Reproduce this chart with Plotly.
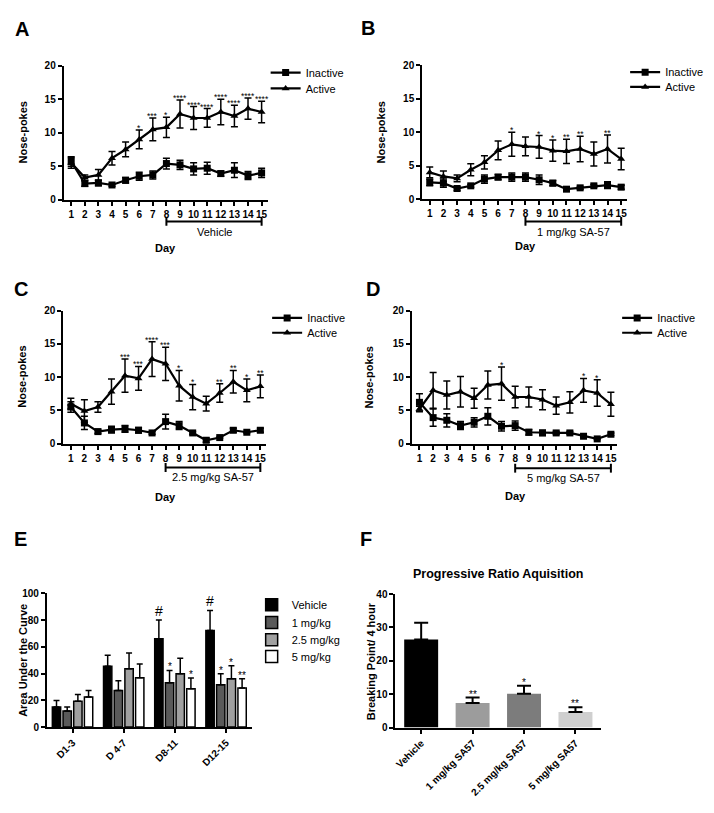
import plotly.graph_objects as go

W, H = 714, 813
PAGE_OFFSET = 8  # default body margin of the html page
FONT = "Liberation Sans, Arial, sans-serif"

# ---------------- data ----------------
days = list(range(1, 16))

A_inactive = [5.7, 2.4, 2.5, 2.2, 2.9, 3.5, 3.7, 5.4, 5.2, 4.6, 4.7, 3.9, 4.4, 3.6, 4.0]
A_inactive_err = [0.7, 0.4, 0.4, 0.2, 0.4, 0.6, 0.6, 0.8, 0.7, 0.9, 0.9, 0.4, 1.1, 0.6, 0.7]
A_active = [5.5, 3.3, 3.7, 6.2, 7.5, 9.0, 10.5, 10.8, 12.8, 12.2, 12.2, 13.1, 12.5, 13.6, 13.1]
A_active_err = [0.8, 0.4, 0.8, 1.0, 1.1, 1.4, 1.7, 1.5, 2.1, 1.7, 1.4, 1.9, 1.6, 1.6, 1.6]
A_sig = ["", "", "", "", "", "*", "***", "*", "****", "****", "****", "****", "****", "****", "****"]

B_inactive = [2.5, 2.4, 1.6, 2.0, 3.0, 3.3, 3.3, 3.3, 2.9, 2.4, 1.5, 1.7, 2.0, 2.1, 1.8]
B_inactive_err = [0.5, 0.6, 0.3, 0.2, 0.6, 0.4, 0.6, 0.6, 0.7, 0.4, 0.2, 0.2, 0.2, 0.5, 0.3]
B_active = [4.0, 3.4, 3.1, 4.4, 5.5, 7.3, 8.2, 7.9, 7.8, 7.25, 7.15, 7.5, 6.75, 7.5, 6.0]
B_active_err = [0.8, 0.8, 0.5, 0.9, 1.0, 1.4, 1.8, 1.4, 1.7, 1.6, 1.8, 1.9, 1.8, 2.1, 1.6]
B_sig = ["", "", "", "", "", "", "*", "", "*", "*", "**", "**", "", "**", ""]

C_inactive = [5.5, 3.1, 1.8, 2.1, 2.2, 2.0, 1.6, 3.3, 2.7, 1.6, 0.5, 0.9, 2.0, 1.7, 2.0]
C_inactive_err = [0.8, 1.0, 0.3, 0.5, 0.5, 0.4, 0.2, 1.1, 0.6, 0.2, 0.3, 0.1, 0.3, 0.1, 0.3]
C_active = [6.0, 4.9, 5.5, 7.8, 10.2, 9.8, 12.7, 12.0, 8.7, 7.0, 6.0, 7.6, 9.3, 8.0, 8.6]
C_active_err = [0.8, 1.7, 0.8, 1.9, 2.5, 1.8, 2.6, 2.5, 2.3, 1.9, 1.1, 1.4, 1.7, 1.7, 1.7]
C_sig = ["", "", "", "", "***", "***", "****", "***", "*", "*", "", "**", "**", "*", "**"]

D_inactive = [6.2, 3.9, 3.5, 2.7, 3.2, 4.1, 2.6, 2.7, 1.7, 1.6, 1.6, 1.6, 1.1, 0.7, 1.4]
D_inactive_err = [1.3, 1.3, 1.0, 0.6, 0.7, 1.3, 0.7, 0.7, 0.4, 0.4, 0.2, 0.2, 0.1, 0.1, 0.2]
D_active = [5.2, 8.0, 7.3, 7.8, 6.8, 8.8, 9.0, 7.0, 7.0, 6.6, 5.7, 6.2, 8.0, 7.6, 5.9]
D_active_err = [0.4, 2.7, 2.1, 2.3, 1.5, 2.1, 2.5, 1.6, 1.5, 1.5, 1.3, 1.6, 1.8, 2.0, 1.8]
D_sig = ["", "", "", "", "", "", "*", "", "", "", "", "", "*", "*", ""]

treatment_start, treatment_end = 8, 15
treatment_labels = ["Vehicle", "1 mg/kg SA-57", "2.5 mg/kg SA-57", "5 mg/kg SA-57"]

E_periods = ["D1-3", "D 4-7", "D8-11", "D12-15"]
E_groups = ["Vehicle", "1 mg/kg", "2.5 mg/kg", "5 mg/kg"]
E_vehicle = [15.0, 45.5, 66.0, 72.2]
E_vehicle_err = [4.9, 8.1, 14.0, 15.0]
E_1mg = [12.0, 27.3, 33.2, 31.7]
E_1mg_err = [3.0, 7.3, 9.1, 8.1]
E_2_5mg = [19.2, 43.5, 39.8, 36.1]
E_2_5mg_err = [5.1, 11.8, 11.6, 9.8]
E_5mg = [22.4, 36.9, 28.7, 29.2]
E_5mg_err = [4.9, 10.3, 7.9, 6.9]
E_vehicle_sig = ["", "", "#", "#"]
E_1mg_sig = ["", "", "*", "*"]
E_2_5mg_sig = ["", "", "", "*"]
E_5mg_sig = ["", "", "*", "**"]

F_groups = ["Vehicle", "1 mg/kg SA57", "2.5 mg/kg SA57", "5 mg/kg SA57"]
F_values = [26.4, 7.4, 10.1, 4.7]
F_err = [5.0, 1.6, 2.4, 1.4]
F_sig = ["", "**", "*", "**"]


# ---------------- helpers (page pixels -> paper fractions) ----------------
def fx(px):
    return (px - PAGE_OFFSET) / W


def fy(py):
    return 1 - (py - PAGE_OFFSET) / H


fig = go.Figure()

axis_base = dict(
    showline=True, linecolor="black", linewidth=2, mirror=False,
    ticks="outside", tickcolor="black", tickwidth=1.5, ticklen=4,
    showgrid=False, zeroline=False,
    tickfont=dict(family=FONT, size=10, color="black", weight="bold"),
)

annotations = []
shapes = []
legend_count = [0]


def new_legend(xpx, ypx, size=11):
    legend_count[0] += 1
    n = legend_count[0]
    name = "legend" if n == 1 else f"legend{n}"
    fig.layout[name] = dict(
        x=fx(xpx), y=fy(ypx), xanchor="left", yanchor="middle",
        font=dict(family=FONT, size=size, color="black"),
        bgcolor="rgba(0,0,0,0)", borderwidth=0, itemclick=False,
    )
    return name


# line panels geometry (page pixels)
line_panels = [
    dict(letter="A", inact=A_inactive, inact_err=A_inactive_err, act=A_active, act_err=A_active_err,
         sig=A_sig, label=treatment_labels[0],
         x0=62.8, x1=267.1, ytop=60.5, ybot=196.5, let=(21, 23), leg=(265, 67.5, 83.5),
         br=218.5, brl=229, day=(165, 246), yt=21.7),
    dict(letter="B", inact=B_inactive, inact_err=B_inactive_err, act=B_active, act_err=B_active_err,
         sig=B_sig, label=treatment_labels[1],
         x0=421.8, x1=627.2, ytop=60.0, ybot=196.0, let=(368, 22), leg=(625, 67, 82),
         br=218.5, brl=229, day=(525, 243), yt=380.7),
    dict(letter="C", inact=C_inactive, inact_err=C_inactive_err, act=C_active, act_err=C_active_err,
         sig=C_sig, label=treatment_labels[2],
         x0=62.5, x1=265.8, ytop=309.0, ybot=444.0, let=(20, 287), leg=(266.5, 316.5, 331.5),
         br=468.3, brl=477.5, day=(165, 498), yt=20.7),
    dict(letter="D", inact=D_inactive, inact_err=D_inactive_err, act=D_active, act_err=D_active_err,
         sig=D_sig, label=treatment_labels[3],
         x0=411.5, x1=616.9, ytop=309.0, ybot=444.0, let=(373, 287), leg=(617, 316.5, 331.5),
         br=469, brl=479, day=(515, 497), yt=369),
]

for i, p in enumerate(line_panels):
    n = i + 1
    xa = "x" if n == 1 else f"x{n}"
    ya = "y" if n == 1 else f"y{n}"
    xl = "xaxis" if n == 1 else f"xaxis{n}"
    yl = "yaxis" if n == 1 else f"yaxis{n}"
    fig.layout[xl] = dict(axis_base, domain=[fx(p["x0"]), fx(p["x1"])], range=[0.45, 15.45],
                          tickvals=days, tickangle=0, anchor=ya)
    fig.layout[yl] = dict(axis_base, domain=[fy(p["ybot"]), fy(p["ytop"])], range=[0, 20],
                          tickvals=[0, 5, 10, 15, 20], anchor=xa)

    leg1 = new_legend(p["leg"][0], p["leg"][1])
    fig.add_trace(go.Scatter(
        x=days, y=p["inact"], name="Inactive", mode="lines+markers",
        xaxis=xa, yaxis=ya, legend=leg1, cliponaxis=False,
        line=dict(color="black", width=2.2),
        marker=dict(symbol="square", size=7, color="black"),
        error_y=dict(type="data", array=p["inact_err"], color="black", thickness=1.5, width=3.5),
    ))
    leg2 = new_legend(p["leg"][0], p["leg"][2])
    fig.add_trace(go.Scatter(
        x=days, y=p["act"], name="Active", mode="lines+markers",
        xaxis=xa, yaxis=ya, legend=leg2, cliponaxis=False,
        line=dict(color="black", width=2.2),
        marker=dict(symbol="triangle-up", size=7, color="black"),
        error_y=dict(type="data", array=p["act_err"], color="black", thickness=1.5, width=3.5),
    ))

    for d, m, e, s in zip(days, p["act"], p["act_err"], p["sig"]):
        if s:
            annotations.append(dict(x=d, y=m + e, xref=xa, yref=ya, text=s, showarrow=False,
                                    xanchor="center", yanchor="bottom", yshift=-4, borderpad=0,
                                    font=dict(family=FONT, size=8.5, color="black")))

    # treatment bracket
    shapes.append(dict(type="line", xref=xa, yref="paper", x0=treatment_start, x1=treatment_end,
                       y0=fy(p["br"]), y1=fy(p["br"]), line=dict(color="black", width=2)))
    for xd in (treatment_start, treatment_end):
        shapes.append(dict(type="line", xref=xa, yref="paper", x0=xd, x1=xd,
                           y0=fy(p["br"] - 4.5), y1=fy(p["br"] + 4.5), line=dict(color="black", width=2)))
    annotations.append(dict(x=(treatment_start + treatment_end) / 2, y=fy(p["brl"]), xref=xa, yref="paper",
                            text=p["label"], showarrow=False, xanchor="center", yanchor="middle",
                            font=dict(family=FONT, size=11, color="black")))
    annotations.append(dict(x=fx(p["day"][0]), y=fy(p["day"][1]), xref="paper", yref="paper",
                            text="<b>Day</b>", showarrow=False, xanchor="center", yanchor="middle",
                            font=dict(family=FONT, size=11, color="black")))
    annotations.append(dict(x=fx(p["yt"]), y=0.5, xref="paper", yref=f"{ya} domain",
                            text="<b>Nose-pokes</b>", showarrow=False, textangle=-90,
                            xanchor="center", yanchor="middle",
                            font=dict(family=FONT, size=11, color="black")))
    annotations.append(dict(x=fx(p["let"][0]), y=fy(p["let"][1]), xref="paper", yref="paper",
                            text=f"<b>{p['letter']}</b>", showarrow=False, xanchor="center", yanchor="middle",
                            font=dict(family=FONT, size=20, color="black")))

# ---------------- panel E ----------------
BARGAP, BARGROUPGAP = 0.165, 0.22
fig.layout["xaxis5"] = dict(axis_base, domain=[fx(46), fx(251)], type="category", anchor="y5",
                            tickangle=-45, range=[-0.5, 3.5])
fig.layout["yaxis5"] = dict(axis_base, domain=[fy(731.7), fy(596)], range=[0, 100],
                            tickvals=[0, 20, 40, 60, 80, 100], anchor="x5")
E_series = [
    (E_groups[0], E_vehicle, E_vehicle_err, E_vehicle_sig, "#000000", 607.5),
    (E_groups[1], E_1mg, E_1mg_err, E_1mg_sig, "#5a5a5a", 625.5),
    (E_groups[2], E_2_5mg, E_2_5mg_err, E_2_5mg_sig, "#a0a0a0", 643),
    (E_groups[3], E_5mg, E_5mg_err, E_5mg_sig, "#ffffff", 660),
]
slot = (1 - BARGAP) / len(E_series)
for j, (name, vals, errs, sigs, col, ly) in enumerate(E_series):
    leg = new_legend(251, ly)
    fig.add_trace(go.Bar(
        x=E_periods, y=vals, name=name, xaxis="x5", yaxis="y5", legend=leg,
        marker=dict(color=col, line=dict(color="black", width=1.5)),
        error_y=dict(type="data", symmetric=False, array=errs, arrayminus=[0] * len(errs),
                     color="black", thickness=1.5, width=3),
    ))
    for k, (v, e, s) in enumerate(zip(vals, errs, sigs)):
        if s:
            annotations.append(dict(x=k + (j - (len(E_series) - 1) / 2) * slot, y=v + e, xref="x5", yref="y5",
                                    text=s, showarrow=False, xanchor="center", yanchor="bottom",
                                    yshift=(-1 if s == "#" else -4),
                                    font=dict(family=FONT, size=(14 if s == "#" else 10), color="black")))

annotations.append(dict(x=fx(21.7), y=0.5, xref="paper", yref="y5 domain", text="<b>Area Under the Curve</b>",
                        showarrow=False, textangle=-90, xanchor="center", yanchor="middle",
                        font=dict(family=FONT, size=11, color="black")))
annotations.append(dict(x=fx(20), y=fy(541), xref="paper", yref="paper", text="<b>E</b>", showarrow=False,
                        xanchor="center", yanchor="middle", font=dict(family=FONT, size=20, color="black")))

# ---------------- panel F ----------------
fig.layout["xaxis6"] = dict(axis_base, domain=[fx(395), fx(601)], type="category", anchor="y6",
                            tickangle=-45, range=[-0.5, 3.5])
fig.layout["yaxis6"] = dict(axis_base, domain=[fy(732.3), fy(596.7)], range=[0, 40],
                            tickvals=[0, 10, 20, 30, 40], anchor="x6")
fig.add_trace(go.Bar(
    x=F_groups, y=F_values, xaxis="x6", yaxis="y6", showlegend=False, width=0.66,
    marker=dict(color=["#000000", "#9c9c9c", "#7c7c7c", "#cfcfcf"], line=dict(width=0)),
    error_y=dict(type="data", symmetric=False, array=F_err, arrayminus=[0] * len(F_err),
                 color="black", thickness=2, width=7),
))
for k, (v, e, s) in enumerate(zip(F_values, F_err, F_sig)):
    if s:
        annotations.append(dict(x=k, y=v + e, xref="x6", yref="y6", text=s, showarrow=False,
                                xanchor="center", yanchor="bottom", yshift=-4,
                                font=dict(family=FONT, size=10, color="black")))
annotations.append(dict(x=0.5, y=fy(576), xref="x6 domain", yref="paper",
                        text="<b>Progressive Ratio Aquisition</b>", showarrow=False,
                        xanchor="center", yanchor="middle",
                        font=dict(family=FONT, size=12.5, color="black")))
annotations.append(dict(x=fx(370), y=0.5, xref="paper", yref="y6 domain", text="<b>Breaking Point/ 4 hour</b>",
                        showarrow=False, textangle=-90, xanchor="center", yanchor="middle",
                        font=dict(family=FONT, size=11, color="black")))
annotations.append(dict(x=fx(366), y=fy(541), xref="paper", yref="paper", text="<b>F</b>", showarrow=False,
                        xanchor="center", yanchor="middle", font=dict(family=FONT, size=20, color="black")))

fig.update_layout(
    width=W, height=H, margin=dict(l=0, r=0, t=0, b=0),
    paper_bgcolor="white", plot_bgcolor="white",
    barmode="group", bargap=BARGAP, bargroupgap=BARGROUPGAP,
    font=dict(family=FONT, color="black"),
    annotations=annotations, shapes=shapes, showlegend=True,
)

fig.write_html("out.html")
